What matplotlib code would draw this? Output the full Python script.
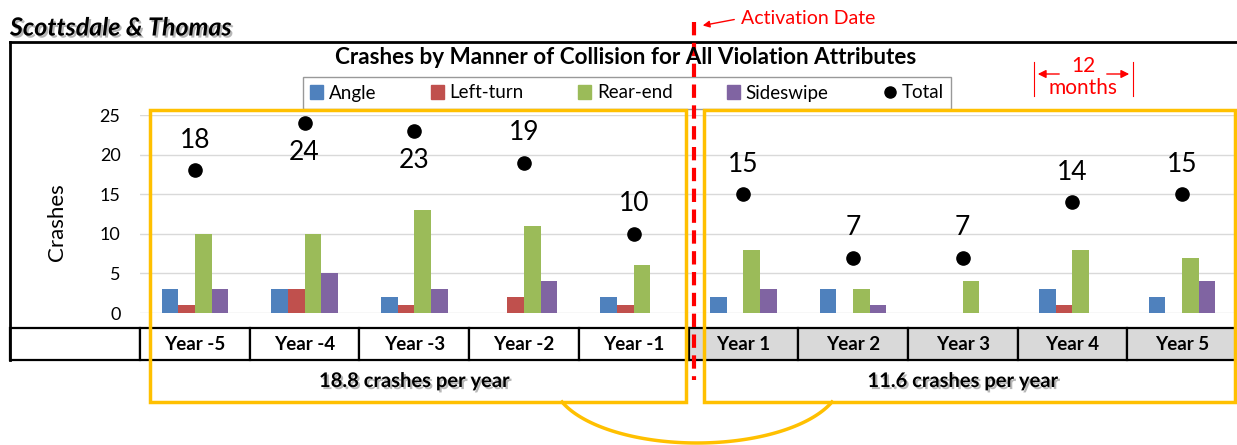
import numpy as np
import matplotlib.pyplot as plt
import matplotlib.patheffects as pe
from matplotlib.patches import Rectangle, Patch
from matplotlib.lines import Line2D
from matplotlib.transforms import blended_transform_factory

plt.rcParams['font.family'] = ['Lato', 'DejaVu Sans']

# data
years = ["Year -5", "Year -4", "Year -3", "Year -2", "Year -1",
         "Year 1", "Year 2", "Year 3", "Year 4", "Year 5"]
angle = [3, 3, 2, 0, 2, 2, 3, 0, 3, 2]
left_turn = [1, 3, 1, 2, 1, 0, 0, 0, 1, 0]
rear_end = [10, 10, 13, 11, 6, 8, 3, 4, 8, 7]
sideswipe = [3, 5, 3, 4, 0, 3, 1, 0, 0, 4]
total = [18, 24, 23, 19, 10, 15, 7, 7, 14, 15]
label_below = [False, True, True, False, False, False, False, False, False, False]
series_names = ["Angle", "Left-turn", "Rear-end", "Sideswipe"]
series_colors = ["#4F81BD", "#C0504D", "#9BBB59", "#8064A2"]
avg_before = "18.8 crashes per year"
avg_after = "11.6 crashes per year"

W, H = 1237, 445
fig = plt.figure(figsize=(W / 100, H / 100), dpi=100)


def fx(px):
    return px / W


def fy(py):
    return 1 - py / H


# main chart axes
ax = fig.add_axes([fx(140), fy(313), fx(1237) - fx(140), fy(115) - fy(313)])
x = np.arange(len(years))
w = 0.152
for k, vals in enumerate([angle, left_turn, rear_end, sideswipe]):
    ax.bar(x + (k - 1.5) * w, vals, width=w, color=series_colors[k],
           edgecolor='none', zorder=2)
ax.plot(x, total, 'o', color='black', ms=9.5, zorder=3, clip_on=False)
for i, v in enumerate(total):
    off = -30 if label_below[i] else 30
    ax.annotate(str(v), (i, v), xytext=(0, off), textcoords='offset pixels',
                ha='center', va='center', fontsize=19)

ax.set_xlim(-0.5, len(years) - 0.5)
ax.set_ylim(0, 25)
ax.set_yticks(range(0, 26, 5))
ax.set_xticks([])
ax.tick_params(axis='y', length=0, pad=14, labelsize=13)
ax.yaxis.grid(True, color='#D9D9D9', lw=1)
ax.set_axisbelow(True)
for s in ax.spines.values():
    s.set_visible(False)

# overlay in pixel coords
ov = fig.add_axes([0, 0, 1, 1], zorder=5)
ov.set_xlim(0, W)
ov.set_ylim(H, 0)
ov.axis('off')
ov.patch.set_alpha(0)
bt = blended_transform_factory(ax.transData, ov.transData)

# outer frame
ov.plot([10, W], [42, 42], color='black', lw=2)
ov.plot([10, 10], [42, 360], color='black', lw=2)

# data table row
ov.add_patch(Rectangle((10, 328), 130, 32, facecolor='white', edgecolor='black', lw=1.6))
for i, name in enumerate(years):
    fc = '#D9D9D9' if i >= 5 else 'white'
    ov.add_patch(Rectangle((i - 0.5, 328), 1, 32, transform=bt,
                           facecolor=fc, edgecolor='black', lw=1.6))
    ov.text(i, 345, name, transform=bt, ha='center', va='center',
            fontsize=13.5, fontweight='bold')

shadow = [pe.withSimplePatchShadow(offset=(1.5, -1.5), shadow_rgbFace='#888888', alpha=0.6)]
ov.text(2, 381, avg_before, transform=bt, ha='center', va='center',
        fontsize=14.5, fontweight='bold', path_effects=shadow)
ov.text(7, 381, avg_after, transform=bt, ha='center', va='center',
        fontsize=14.5, fontweight='bold', path_effects=shadow)

# yellow boxes and connector
yc = '#FFC000'
ov.add_patch(Rectangle((150, 110), 536, 292, fill=False, edgecolor=yc, lw=2.5))
ov.add_patch(Rectangle((704, 110), 531, 292, fill=False, edgecolor=yc, lw=2.5))
t = np.linspace(np.arcsin(22 / 63), np.pi - np.arcsin(22 / 63), 100)
ov.plot(697 + 144 * np.cos(t), 380 + 63 * np.sin(t), color=yc, lw=2.5)

# activation line
red = '#FF0000'
ov.plot([694, 694], [22, 380], color=red, lw=3, dashes=(3.2, 1.8))
ov.annotate('', xy=(700, 26), xytext=(737, 19),
            arrowprops=dict(arrowstyle='-|>', color=red, lw=1, mutation_scale=10))
ov.text(741, 18, 'Activation Date', color=red, fontsize=14, ha='left', va='center')

# 12 months marker
ov.plot([1034, 1034], [62, 96], color=red, lw=0.8)
ov.plot([1133, 1133], [62, 96], color=red, lw=0.8)
ov.annotate('', xy=(1035, 74), xytext=(1062, 74),
            arrowprops=dict(arrowstyle='-|>', color=red, lw=1, mutation_scale=12))
ov.annotate('', xy=(1132, 74), xytext=(1104, 74),
            arrowprops=dict(arrowstyle='-|>', color=red, lw=1, mutation_scale=12))
ov.text(1083, 66, '12', color=red, fontsize=15, ha='center', va='center')
ov.text(1083, 88, 'months', color=red, fontsize=15, ha='center', va='center')

# titles
ov.text(57, 222, 'Crashes', rotation=90, fontsize=16, ha='center', va='center')
ov.text(626, 57, 'Crashes by Manner of Collision for All Violation Attributes',
        fontsize=16.2, fontweight='bold', ha='center', va='center')
ov.text(10, 28, 'Scottsdale & Thomas', fontsize=18, fontweight='bold', style='italic',
        ha='left', va='center', path_effects=shadow)

# legend
handles = [Patch(color=c) for c in series_colors]
handles.append(Line2D([], [], marker='o', ls='', color='black', ms=8))
leg = fig.legend(handles, series_names + ["Total"], loc='center',
                 bbox_to_anchor=(fx(627), fy(93)), ncol=5, frameon=True, fancybox=False,
                 edgecolor='#808080', fontsize=13.5, handlelength=0.7, handleheight=0.7,
                 handletextpad=0.3, columnspacing=2.9, borderpad=0.4)
leg.get_frame().set_linewidth(1)
leg.set_zorder(4)

fig.savefig('out.png', dpi=100)
